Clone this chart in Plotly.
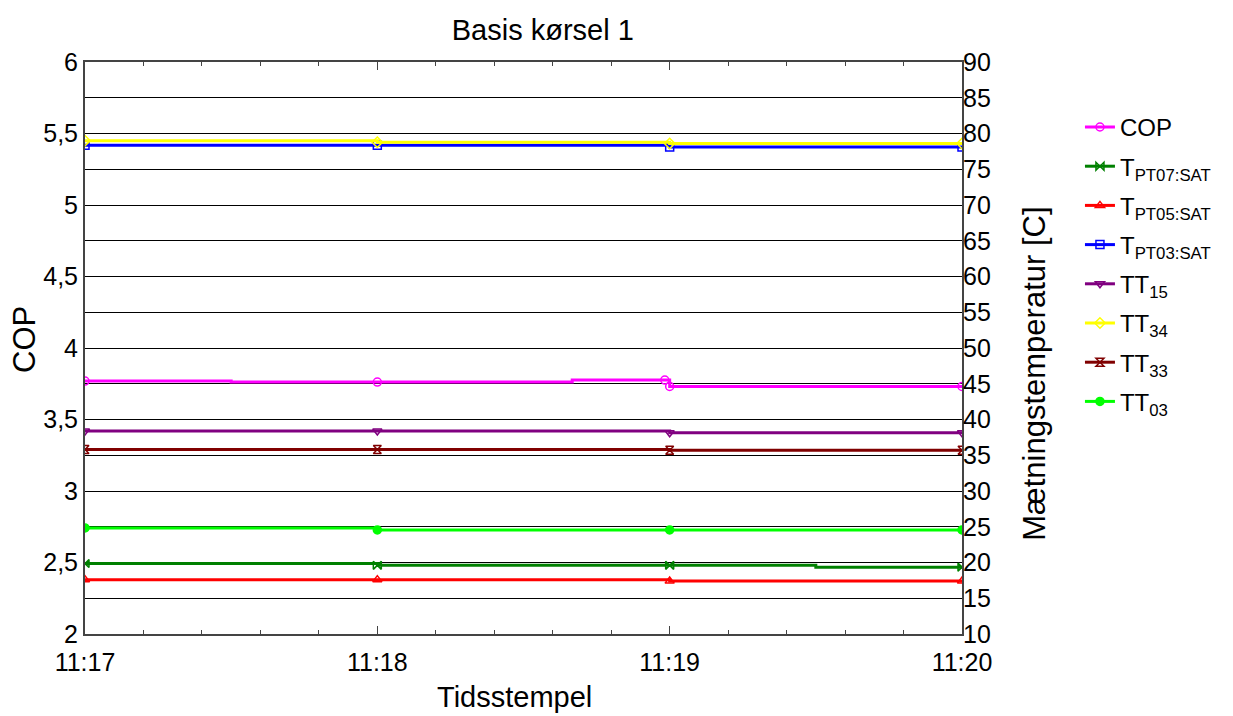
import plotly.graph_objects as go

DAY = "2024-01-01 "

# ---- data ----
cop_t = ["11:17:00", "11:17:30", "11:18:00", "11:18:40", "11:18:59", "11:19:00", "11:20:00"]
cop_v = [3.769, 3.762, 3.762, 3.776, 3.776, 3.731, 3.731]

pt07_t = ["11:17:00", "11:18:00", "11:19:00", "11:19:30", "11:20:00"]
pt07_v = [19.85, 19.6, 19.6, 19.35, 19.35]

pt05_t = ["11:17:00", "11:18:00", "11:19:00", "11:20:00"]
pt05_v = [17.6, 17.6, 17.4, 17.4]

pt03_t = ["11:17:00", "11:18:00", "11:19:00", "11:20:00"]
pt03_v = [78.35, 78.35, 78.1, 78.1]

tt15_t = ["11:17:00", "11:18:00", "11:19:00", "11:20:00"]
tt15_v = [38.4, 38.4, 38.15, 38.15]

tt34_t = ["11:17:00", "11:18:00", "11:19:00", "11:20:00"]
tt34_v = [79.0, 78.77, 78.6, 78.6]

tt33_t = ["11:17:00", "11:18:00", "11:19:00", "11:20:00"]
tt33_v = [35.8, 35.8, 35.7, 35.7]

tt03_t = ["11:17:00", "11:18:00", "11:19:00", "11:20:00"]
tt03_v = [24.83, 24.55, 24.55, 24.55]

marker_times = ["11:17:00", "11:18:00", "11:18:59", "11:19:00", "11:20:00"]

x_ticks = ["11:17:00", "11:18:00", "11:19:00", "11:20:00"]
x_ticktext = ["11:17", "11:18", "11:19", "11:20"]

cop_tickvals = [2, 2.5, 3, 3.5, 4, 4.5, 5, 5.5, 6]
cop_ticktext = ["2", "2,5", "3", "3,5", "4", "4,5", "5", "5,5", "6"]
cop_gridvals = [2.25, 2.75, 3.25, 3.75, 4.25, 4.75, 5.25, 5.75]
cop_smallticks = [2.125, 2.375, 2.625, 2.875, 3.125, 3.375, 3.625, 3.875,
                  4.125, 4.375, 4.625, 4.875, 5.125, 5.375, 5.625, 5.875]

temp_tickvals = list(range(10, 95, 5))
temp_ticktext = [str(v) for v in temp_tickvals]

series = [
    ("COP", cop_t, cop_v, "y", "#FF00FF", "circle-open"),
    ("T<sub>PT07:SAT</sub>", pt07_t, pt07_v, "y2", "#008000", "bowtie-open"),
    ("T<sub>PT05:SAT</sub>", pt05_t, pt05_v, "y2", "#FF0000", "triangle-up-open"),
    ("T<sub>PT03:SAT</sub>", pt03_t, pt03_v, "y2", "#0000FF", "square-open"),
    ("TT<sub>15</sub>", tt15_t, tt15_v, "y2", "#800080", "triangle-down-open"),
    ("TT<sub>34</sub>", tt34_t, tt34_v, "y2", "#FFFF00", "diamond-open"),
    ("TT<sub>33</sub>", tt33_t, tt33_v, "y2", "#800000", "hourglass-open"),
    ("TT<sub>03</sub>", tt03_t, tt03_v, "y2", "#00FF00", "circle"),
]

fig = go.Figure()
for k, (name, t, v, yax, col, sym) in enumerate(series):
    sel = [i for i, tt in enumerate(t) if tt in marker_times]
    fig.add_trace(go.Scatter(
        x=[DAY + s for s in t], y=v, name=name, yaxis=yax, legendgroup="g%d" % k,
        mode="lines+markers", line=dict(color=col, width=3, shape="hv"),
        marker=dict(symbol=sym, size=8, color=col, line=dict(color=col, width=1.5)),
        selectedpoints=sel,
        selected=dict(marker=dict(opacity=1)),
        unselected=dict(marker=dict(opacity=0)),
    ))

font = "Liberation Sans, Arial, sans-serif"
fig.update_layout(
    width=1233, height=716,
    margin=dict(l=85, r=271, t=62, b=82),
    paper_bgcolor="white", plot_bgcolor="white",
    font=dict(family=font, color="black", size=25),
    separators=", ",
    title=dict(text="Basis kørsel 1", x=0.522, xref="paper", xanchor="center",
               y=1 - 30 / 716, yref="container", yanchor="middle", font=dict(size=29)),
    showlegend=True,
    legend=dict(x=1.1345, y=0.925, xanchor="left", yanchor="top",
                font=dict(size=24), tracegroupgap=5, itemwidth=30,
                bgcolor="rgba(0,0,0,0)"),
    xaxis=dict(
        range=[DAY + "11:17:00", DAY + "11:20:00"],
        tickmode="array", tickvals=[DAY + s for s in x_ticks], ticktext=x_ticktext,
        ticks="inside", ticklen=8, tickcolor="#444", tickwidth=1,
        minor=dict(dtick=12000, ticks="inside", ticklen=4, tickcolor="#444", showgrid=False),
        showline=True, linecolor="#444", linewidth=2, mirror="ticks",
        showgrid=False, zeroline=False, automargin=False,
        ticklabelstandoff=5,
        tickfont=dict(size=25),
    ),
    yaxis=dict(
        range=[2, 6], tickmode="array", tickvals=cop_tickvals, ticktext=cop_ticktext,
        ticks="", showgrid=True, gridcolor="black", gridwidth=1,
        minor=dict(tickmode="array", tickvals=cop_gridvals, ticks="",
                   showgrid=True, gridcolor="black", gridwidth=1),
        showline=True, linecolor="#444", linewidth=2, mirror=True,
        zeroline=False, automargin=False,
        tickfont=dict(size=25),
    ),
    yaxis2=dict(
        range=[10, 90], overlaying="y", side="right",
        tickmode="array", tickvals=temp_tickvals, ticktext=temp_ticktext,
        ticks="", showgrid=False, zeroline=False, showline=False, automargin=False,
        tickfont=dict(size=25),
    ),
    yaxis3=dict(
        range=[2, 6], overlaying="y", side="left", anchor="x",
        tickmode="array", tickvals=cop_smallticks, showticklabels=False,
        ticks="inside", ticklen=5, tickcolor="#444",
        showgrid=False, zeroline=False, showline=False, automargin=False,
    ),
    annotations=[
        dict(text="Tidsstempel", xref="paper", yref="paper", x=0.490, y=-0.110,
             xanchor="center", yanchor="middle", showarrow=False, font=dict(size=29)),
        dict(text="COP", xref="paper", yref="paper", x=-0.0684, y=0.514, textangle=-90,
             xanchor="center", yanchor="middle", showarrow=False, font=dict(size=31)),
        dict(text="Mætningstemperatur [C]", xref="paper", yref="paper", x=1.0832, y=0.455,
             textangle=-90, xanchor="center", yanchor="middle", showarrow=False,
             font=dict(size=31)),
    ],
)

fig.write_html("out.html")
